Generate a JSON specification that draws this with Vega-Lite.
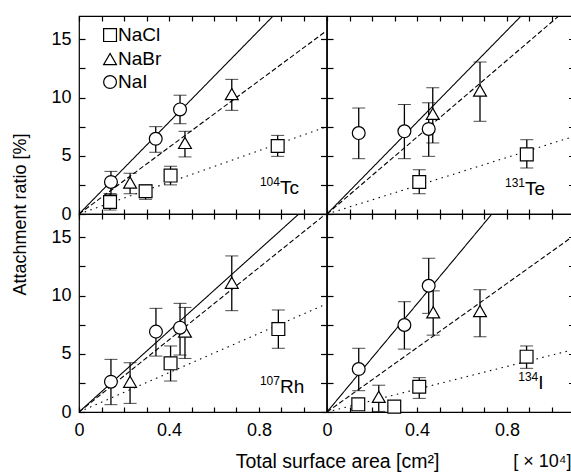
{
  "$schema": "https://vega.github.io/schema/vega-lite/v6.json",
  "padding": {"left": 10, "top": 14, "right": 0, "bottom": 0},
  "background": "white",
  "datasets": {
    "pts": [
      {"panel": "Tc", "salt": "NaCl", "x": 0.138, "y": 1.03, "lo": 0.34, "hi": 1.75},
      {"panel": "Tc", "salt": "NaCl", "x": 0.296, "y": 1.95, "lo": 1.26, "hi": 2.5},
      {"panel": "Tc", "salt": "NaCl", "x": 0.407, "y": 3.3, "lo": 2.5, "hi": 4.1},
      {"panel": "Tc", "salt": "NaCl", "x": 0.883, "y": 5.84, "lo": 4.95, "hi": 6.75},
      {"panel": "Tc", "salt": "NaBr", "x": 0.227, "y": 2.7, "lo": 1.74, "hi": 3.5},
      {"panel": "Tc", "salt": "NaBr", "x": 0.471, "y": 6.1, "lo": 4.9, "hi": 7.1},
      {"panel": "Tc", "salt": "NaBr", "x": 0.679, "y": 10.3, "lo": 8.9, "hi": 11.56},
      {"panel": "Tc", "salt": "NaI", "x": 0.142, "y": 2.75, "lo": 1.66, "hi": 3.66},
      {"panel": "Tc", "salt": "NaI", "x": 0.341, "y": 6.46, "lo": 5.3, "hi": 7.5},
      {"panel": "Tc", "salt": "NaI", "x": 0.449, "y": 8.98, "lo": 7.75, "hi": 10.2},
      {"panel": "Te", "salt": "NaCl", "x": 0.41, "y": 2.75, "lo": 1.74, "hi": 3.8},
      {"panel": "Te", "salt": "NaCl", "x": 0.888, "y": 5.12, "lo": 3.95, "hi": 6.38},
      {"panel": "Te", "salt": "NaBr", "x": 0.47, "y": 8.6, "lo": 6.1, "hi": 10.84},
      {"panel": "Te", "salt": "NaBr", "x": 0.68, "y": 10.6, "lo": 7.96, "hi": 13.05},
      {"panel": "Te", "salt": "NaI", "x": 0.141, "y": 6.95, "lo": 4.75, "hi": 9.1},
      {"panel": "Te", "salt": "NaI", "x": 0.344, "y": 7.1, "lo": 4.75, "hi": 9.4},
      {"panel": "Te", "salt": "NaI", "x": 0.452, "y": 7.3, "lo": 4.95, "hi": 9.55},
      {"panel": "Rh", "salt": "NaCl", "x": 0.407, "y": 4.18, "lo": 2.66, "hi": 5.67},
      {"panel": "Rh", "salt": "NaCl", "x": 0.886, "y": 7.12, "lo": 5.47, "hi": 8.76},
      {"panel": "Rh", "salt": "NaBr", "x": 0.227, "y": 2.6, "lo": 0.74, "hi": 4.23},
      {"panel": "Rh", "salt": "NaBr", "x": 0.471, "y": 6.9, "lo": 4.6, "hi": 8.98},
      {"panel": "Rh", "salt": "NaBr", "x": 0.679, "y": 11.1, "lo": 8.7, "hi": 13.4},
      {"panel": "Rh", "salt": "NaI", "x": 0.142, "y": 2.6, "lo": 0.63, "hi": 4.52},
      {"panel": "Rh", "salt": "NaI", "x": 0.342, "y": 6.9, "lo": 4.8, "hi": 8.9},
      {"panel": "Rh", "salt": "NaI", "x": 0.449, "y": 7.24, "lo": 4.89, "hi": 9.33},
      {"panel": "I", "salt": "NaCl", "x": 0.139, "y": 0.66, "lo": 0.66, "hi": 0.66},
      {"panel": "I", "salt": "NaCl", "x": 0.299, "y": 0.46, "lo": 0.46, "hi": 0.46},
      {"panel": "I", "salt": "NaCl", "x": 0.41, "y": 2.17, "lo": 1.17, "hi": 2.95},
      {"panel": "I", "salt": "NaCl", "x": 0.887, "y": 4.75, "lo": 3.75, "hi": 5.67},
      {"panel": "I", "salt": "NaBr", "x": 0.23, "y": 1.3, "lo": 0.05, "hi": 2.3},
      {"panel": "I", "salt": "NaBr", "x": 0.472, "y": 8.56, "lo": 6.6, "hi": 10.4},
      {"panel": "I", "salt": "NaBr", "x": 0.68, "y": 8.67, "lo": 6.46, "hi": 10.5},
      {"panel": "I", "salt": "NaI", "x": 0.141, "y": 3.69, "lo": 1.83, "hi": 5.47},
      {"panel": "I", "salt": "NaI", "x": 0.344, "y": 7.47, "lo": 5.4, "hi": 9.47},
      {"panel": "I", "salt": "NaI", "x": 0.452, "y": 10.84, "lo": 8.47, "hi": 13.2}
    ],
    "fits": [
      {"panel": "Tc", "fit": "NaCl", "x": 0, "y": 0}, {"panel": "Tc", "fit": "NaCl", "x": 1.1, "y": 7.48},
      {"panel": "Tc", "fit": "NaBr", "x": 0, "y": 0}, {"panel": "Tc", "fit": "NaBr", "x": 1.1, "y": 15.73},
      {"panel": "Tc", "fit": "NaI", "x": 0, "y": 0}, {"panel": "Tc", "fit": "NaI", "x": 1.1, "y": 21.67},
      {"panel": "Te", "fit": "NaCl", "x": 0, "y": 0}, {"panel": "Te", "fit": "NaCl", "x": 1.1, "y": 6.68},
      {"panel": "Te", "fit": "NaBr", "x": 0, "y": 0}, {"panel": "Te", "fit": "NaBr", "x": 1.1, "y": 18.15},
      {"panel": "Te", "fit": "NaI", "x": 0, "y": 0}, {"panel": "Te", "fit": "NaI", "x": 1.1, "y": 21.67},
      {"panel": "Rh", "fit": "NaCl", "x": 0, "y": 0}, {"panel": "Rh", "fit": "NaCl", "x": 1.1, "y": 9.28},
      {"panel": "Rh", "fit": "NaBr", "x": 0, "y": 0}, {"panel": "Rh", "fit": "NaBr", "x": 1.1, "y": 17.05},
      {"panel": "Rh", "fit": "NaI", "x": 0, "y": 0}, {"panel": "Rh", "fit": "NaI", "x": 1.1, "y": 19.14},
      {"panel": "I", "fit": "NaCl", "x": 0, "y": 0}, {"panel": "I", "fit": "NaCl", "x": 1.1, "y": 5.38},
      {"panel": "I", "fit": "NaBr", "x": 0, "y": 0}, {"panel": "I", "fit": "NaBr", "x": 1.1, "y": 15.18},
      {"panel": "I", "fit": "NaI", "x": 0, "y": 0}, {"panel": "I", "fit": "NaI", "x": 1.1, "y": 25.52}
    ],
    "labels": [
      {"panel": "Tc", "sup": "104", "sym": "Tc"},
      {"panel": "Te", "sup": "131", "sym": "Te"},
      {"panel": "Rh", "sup": "107", "sym": "Rh"},
      {"panel": "I", "sup": "134", "sym": "I"}
    ]
  },
  "columns": 2,
  "spacing": 0,
  "bounds": "flush",
  "resolve": {"scale": {"strokeDash": "independent"}},
  "concat": [
    {
      "width": 247.5, "height": 198,
      "resolve": {"axis": {"x": "independent", "y": "independent"}},
      "layer": [
        {"data": {"name": "fits"}, "transform": [{"filter": "datum.panel === 'Tc'"}],
         "mark": {"type": "line", "clip": true, "color": "black", "strokeWidth": 1.1},
         "encoding": {
           "x": {"field": "x", "type": "quantitative", "scale": {"domain": [0, 1.1], "nice": false, "zero": false},
                 "axis": {"orient": "bottom", "values": [0,0.1,0.2,0.3,0.4,0.5,0.6,0.7,0.8,0.9,1.0], "labels": false, "tickSize": -5, "title": null}},
           "y": {"field": "y", "type": "quantitative", "scale": {"domain": [0, 17], "nice": false, "zero": false},
                 "axis": {"orient": "left", "values": [0,2.5,5,7.5,10,12.5,15], "labelExpr": "datum.value % 5 === 0 ? datum.label : ''", "tickSize": -6, "labelPadding": 14, "title": "Attachment ratio [%]", "titleX": -50, "titleY": 198}},
           "strokeDash": {"field": "fit", "type": "nominal", "scale": {"domain": ["NaCl", "NaBr", "NaI"], "range": [[1.5, 4.5], [5, 2.5], [1, 0]]}, "legend": null}
         }},
        {"data": {"name": "pts"}, "transform": [{"filter": "datum.panel === 'Tc'"}],
         "mark": {"type": "errorbar", "ticks": {"size": 13, "color": "black", "strokeWidth": 1.3}, "rule": {"color": "black", "strokeWidth": 1.3}},
         "encoding": {
           "x": {"field": "x", "type": "quantitative", "scale": {"domain": [0, 1.1], "nice": false, "zero": false},
                 "axis": {"orient": "top", "values": [0,0.1,0.2,0.3,0.4,0.5,0.6,0.7,0.8,0.9,1.0], "labels": false, "tickSize": -5, "title": null}},
           "y": {"field": "lo", "type": "quantitative", "scale": {"domain": [0, 17], "nice": false, "zero": false},
                 "axis": {"orient": "right", "values": [0,2.5,5,7.5,10,12.5,15], "labels": false, "tickSize": -6, "title": null}},
           "y2": {"field": "hi"}
         }},
        {"data": {"name": "pts"}, "transform": [{"filter": "datum.panel === 'Tc'"}],
         "mark": {"type": "point", "filled": false, "color": "black", "fill": "white", "stroke": "black", "strokeWidth": 1.2, "opacity": 1, "size": 165},
         "encoding": {
           "x": {"field": "x", "type": "quantitative", "axis": null},
           "y": {"field": "y", "type": "quantitative", "axis": null},
           "shape": {"field": "salt", "type": "nominal", "scale": {"domain": ["NaCl", "NaBr", "NaI"], "range": ["square", "triangle-up", "circle"]}, "legend": null}
         }},
        {"data": {"name": "labels"}, "transform": [{"filter": "datum.panel === 'Tc'"}],
         "mark": {"type": "point", "filled": false, "color": "black", "fill": "white", "stroke": "black", "strokeWidth": 1.2, "opacity": 1, "size": 165},
         "encoding": {"x": {"datum": 0.138, "type": "quantitative", "axis": null}, "y": {"datum": 15.36, "type": "quantitative", "axis": null}, "shape": {"datum": "NaCl", "type": "nominal", "legend": null}}},
        {"data": {"name": "labels"}, "transform": [{"filter": "datum.panel === 'Tc'"}],
         "mark": {"type": "point", "filled": false, "color": "black", "fill": "white", "stroke": "black", "strokeWidth": 1.2, "opacity": 1, "size": 165},
         "encoding": {"x": {"datum": 0.138, "type": "quantitative", "axis": null}, "y": {"datum": 13.3, "type": "quantitative", "axis": null}, "shape": {"datum": "NaBr", "type": "nominal", "legend": null}}},
        {"data": {"name": "labels"}, "transform": [{"filter": "datum.panel === 'Tc'"}],
         "mark": {"type": "point", "filled": false, "color": "black", "fill": "white", "stroke": "black", "strokeWidth": 1.2, "opacity": 1, "size": 165},
         "encoding": {"x": {"datum": 0.138, "type": "quantitative", "axis": null}, "y": {"datum": 11.33, "type": "quantitative", "axis": null}, "shape": {"datum": "NaI", "type": "nominal", "legend": null}}},
        {"data": {"name": "labels"}, "transform": [{"filter": "datum.panel === 'Tc'"}],
         "mark": {"type": "text", "align": "left", "baseline": "middle", "fontSize": 19, "color": "black"},
         "encoding": {"x": {"datum": 0.173, "type": "quantitative", "axis": null}, "y": {"datum": 15.36, "type": "quantitative", "axis": null}, "text": {"value": "NaCl"}}},
        {"data": {"name": "labels"}, "transform": [{"filter": "datum.panel === 'Tc'"}],
         "mark": {"type": "text", "align": "left", "baseline": "middle", "fontSize": 19, "color": "black"},
         "encoding": {"x": {"datum": 0.173, "type": "quantitative", "axis": null}, "y": {"datum": 13.3, "type": "quantitative", "axis": null}, "text": {"value": "NaBr"}}},
        {"data": {"name": "labels"}, "transform": [{"filter": "datum.panel === 'Tc'"}],
         "mark": {"type": "text", "align": "left", "baseline": "middle", "fontSize": 19, "color": "black"},
         "encoding": {"x": {"datum": 0.173, "type": "quantitative", "axis": null}, "y": {"datum": 11.33, "type": "quantitative", "axis": null}, "text": {"value": "NaI"}}},
        {"data": {"name": "labels"}, "transform": [{"filter": "datum.panel === 'Tc'"}],
         "mark": {"type": "text", "align": "right", "baseline": "alphabetic", "fontSize": 12, "dy": -8, "color": "black"},
         "encoding": {"x": {"datum": 0.893, "type": "quantitative", "axis": null}, "y": {"datum": 1.74, "type": "quantitative", "axis": null}, "text": {"field": "sup"}}},
        {"data": {"name": "labels"}, "transform": [{"filter": "datum.panel === 'Tc'"}],
         "mark": {"type": "text", "align": "left", "baseline": "alphabetic", "fontSize": 19, "color": "black"},
         "encoding": {"x": {"datum": 0.893, "type": "quantitative", "axis": null}, "y": {"datum": 1.74, "type": "quantitative", "axis": null}, "text": {"field": "sym"}}}
      ]
    },
    {
      "width": 247.5, "height": 198,
      "resolve": {"axis": {"x": "independent", "y": "independent"}},
      "layer": [
        {"data": {"name": "fits"}, "transform": [{"filter": "datum.panel === 'Te'"}],
         "mark": {"type": "line", "clip": true, "color": "black", "strokeWidth": 1.1},
         "encoding": {
           "x": {"field": "x", "type": "quantitative", "scale": {"domain": [0, 1.1], "nice": false, "zero": false},
                 "axis": {"orient": "bottom", "values": [0,0.1,0.2,0.3,0.4,0.5,0.6,0.7,0.8,0.9,1.0], "labels": false, "tickSize": -5, "title": null}},
           "y": {"field": "y", "type": "quantitative", "scale": {"domain": [0, 17], "nice": false, "zero": false},
                 "axis": {"orient": "left", "values": [0,2.5,5,7.5,10,12.5,15], "labels": false, "tickSize": -6, "title": null}},
           "strokeDash": {"field": "fit", "type": "nominal", "scale": {"domain": ["NaCl", "NaBr", "NaI"], "range": [[1.5, 4.5], [5, 2.5], [1, 0]]}, "legend": null}
         }},
        {"data": {"name": "pts"}, "transform": [{"filter": "datum.panel === 'Te'"}],
         "mark": {"type": "errorbar", "ticks": {"size": 13, "color": "black", "strokeWidth": 1.3}, "rule": {"color": "black", "strokeWidth": 1.3}},
         "encoding": {
           "x": {"field": "x", "type": "quantitative", "scale": {"domain": [0, 1.1], "nice": false, "zero": false},
                 "axis": {"orient": "top", "values": [0,0.1,0.2,0.3,0.4,0.5,0.6,0.7,0.8,0.9,1.0], "labels": false, "tickSize": -5, "title": null}},
           "y": {"field": "lo", "type": "quantitative", "scale": {"domain": [0, 17], "nice": false, "zero": false},
                 "axis": {"orient": "right", "values": [0,2.5,5,7.5,10,12.5,15], "labels": false, "tickSize": -6, "title": null}},
           "y2": {"field": "hi"}
         }},
        {"data": {"name": "pts"}, "transform": [{"filter": "datum.panel === 'Te'"}],
         "mark": {"type": "point", "filled": false, "color": "black", "fill": "white", "stroke": "black", "strokeWidth": 1.2, "opacity": 1, "size": 165},
         "encoding": {
           "x": {"field": "x", "type": "quantitative", "axis": null},
           "y": {"field": "y", "type": "quantitative", "axis": null},
           "shape": {"field": "salt", "type": "nominal", "scale": {"domain": ["NaCl", "NaBr", "NaI"], "range": ["square", "triangle-up", "circle"]}, "legend": null}
         }},
        {"data": {"name": "labels"}, "transform": [{"filter": "datum.panel === 'Te'"}],
         "mark": {"type": "text", "align": "right", "baseline": "alphabetic", "fontSize": 12, "dy": -8, "color": "black"},
         "encoding": {"x": {"datum": 0.88, "type": "quantitative", "axis": null}, "y": {"datum": 1.6, "type": "quantitative", "axis": null}, "text": {"field": "sup"}}},
        {"data": {"name": "labels"}, "transform": [{"filter": "datum.panel === 'Te'"}],
         "mark": {"type": "text", "align": "left", "baseline": "alphabetic", "fontSize": 19, "color": "black"},
         "encoding": {"x": {"datum": 0.88, "type": "quantitative", "axis": null}, "y": {"datum": 1.6, "type": "quantitative", "axis": null}, "text": {"field": "sym"}}}
      ]
    },
    {
      "width": 247.5, "height": 198,
      "resolve": {"axis": {"x": "independent", "y": "independent"}},
      "layer": [
        {"data": {"name": "fits"}, "transform": [{"filter": "datum.panel === 'Rh'"}],
         "mark": {"type": "line", "clip": true, "color": "black", "strokeWidth": 1.1},
         "encoding": {
           "x": {"field": "x", "type": "quantitative", "scale": {"domain": [0, 1.1], "nice": false, "zero": false},
                 "axis": {"orient": "bottom", "values": [0,0.1,0.2,0.3,0.4,0.5,0.6,0.7,0.8,0.9,1.0], "format": ".1~f", "labelExpr": "indexof(['0','0.4','0.8'], datum.label) >= 0 ? datum.label : ''", "tickSize": -5, "labelPadding": 14, "title": "Total surface area [cm²]", "titleFontSize": 19.5, "titleX": 258, "titleY": 40, "titleAlign": "center", "titleBaseline": "top"}},
           "y": {"field": "y", "type": "quantitative", "scale": {"domain": [0, 17], "nice": false, "zero": false},
                 "axis": {"orient": "left", "values": [0,2.5,5,7.5,10,12.5,15], "labelExpr": "datum.value % 5 === 0 ? datum.label : ''", "tickSize": -6, "labelPadding": 14, "title": null}},
           "strokeDash": {"field": "fit", "type": "nominal", "scale": {"domain": ["NaCl", "NaBr", "NaI"], "range": [[1.5, 4.5], [5, 2.5], [1, 0]]}, "legend": null}
         }},
        {"data": {"name": "pts"}, "transform": [{"filter": "datum.panel === 'Rh'"}],
         "mark": {"type": "errorbar", "ticks": {"size": 13, "color": "black", "strokeWidth": 1.3}, "rule": {"color": "black", "strokeWidth": 1.3}},
         "encoding": {
           "x": {"field": "x", "type": "quantitative", "scale": {"domain": [0, 1.1], "nice": false, "zero": false},
                 "axis": {"orient": "top", "values": [0,0.1,0.2,0.3,0.4,0.5,0.6,0.7,0.8,0.9,1.0], "labels": false, "tickSize": -5, "title": null}},
           "y": {"field": "lo", "type": "quantitative", "scale": {"domain": [0, 17], "nice": false, "zero": false},
                 "axis": {"orient": "right", "values": [0,2.5,5,7.5,10,12.5,15], "labels": false, "tickSize": -6, "title": null}},
           "y2": {"field": "hi"}
         }},
        {"data": {"name": "pts"}, "transform": [{"filter": "datum.panel === 'Rh'"}],
         "mark": {"type": "point", "filled": false, "color": "black", "fill": "white", "stroke": "black", "strokeWidth": 1.2, "opacity": 1, "size": 165},
         "encoding": {
           "x": {"field": "x", "type": "quantitative", "axis": null},
           "y": {"field": "y", "type": "quantitative", "axis": null},
           "shape": {"field": "salt", "type": "nominal", "scale": {"domain": ["NaCl", "NaBr", "NaI"], "range": ["square", "triangle-up", "circle"]}, "legend": null}
         }},
        {"data": {"name": "labels"}, "transform": [{"filter": "datum.panel === 'Rh'"}],
         "mark": {"type": "text", "align": "right", "baseline": "alphabetic", "fontSize": 12, "dy": -8, "color": "black"},
         "encoding": {"x": {"datum": 0.893, "type": "quantitative", "axis": null}, "y": {"datum": 1.66, "type": "quantitative", "axis": null}, "text": {"field": "sup"}}},
        {"data": {"name": "labels"}, "transform": [{"filter": "datum.panel === 'Rh'"}],
         "mark": {"type": "text", "align": "left", "baseline": "alphabetic", "fontSize": 19, "color": "black"},
         "encoding": {"x": {"datum": 0.893, "type": "quantitative", "axis": null}, "y": {"datum": 1.66, "type": "quantitative", "axis": null}, "text": {"field": "sym"}}}
      ]
    },
    {
      "width": 247.5, "height": 198,
      "resolve": {"axis": {"x": "independent", "y": "independent"}},
      "layer": [
        {"data": {"name": "fits"}, "transform": [{"filter": "datum.panel === 'I'"}],
         "mark": {"type": "line", "clip": true, "color": "black", "strokeWidth": 1.1},
         "encoding": {
           "x": {"field": "x", "type": "quantitative", "scale": {"domain": [0, 1.1], "nice": false, "zero": false},
                 "axis": {"orient": "bottom", "values": [0,0.1,0.2,0.3,0.4,0.5,0.6,0.7,0.8,0.9,1.0], "format": ".1~f", "labelExpr": "indexof(['0','0.4','0.8'], datum.label) >= 0 ? datum.label : ''", "tickSize": -5, "labelPadding": 14, "title": "[ × 10⁴]", "titleX": 244, "titleY": 40, "titleAlign": "right", "titleBaseline": "top"}},
           "y": {"field": "y", "type": "quantitative", "scale": {"domain": [0, 17], "nice": false, "zero": false},
                 "axis": {"orient": "left", "values": [0,2.5,5,7.5,10,12.5,15], "labels": false, "tickSize": -6, "title": null}},
           "strokeDash": {"field": "fit", "type": "nominal", "scale": {"domain": ["NaCl", "NaBr", "NaI"], "range": [[1.5, 4.5], [5, 2.5], [1, 0]]}, "legend": null}
         }},
        {"data": {"name": "pts"}, "transform": [{"filter": "datum.panel === 'I'"}],
         "mark": {"type": "errorbar", "ticks": {"size": 13, "color": "black", "strokeWidth": 1.3}, "rule": {"color": "black", "strokeWidth": 1.3}},
         "encoding": {
           "x": {"field": "x", "type": "quantitative", "scale": {"domain": [0, 1.1], "nice": false, "zero": false},
                 "axis": {"orient": "top", "values": [0,0.1,0.2,0.3,0.4,0.5,0.6,0.7,0.8,0.9,1.0], "labels": false, "tickSize": -5, "title": null}},
           "y": {"field": "lo", "type": "quantitative", "scale": {"domain": [0, 17], "nice": false, "zero": false},
                 "axis": {"orient": "right", "values": [0,2.5,5,7.5,10,12.5,15], "labels": false, "tickSize": -6, "title": null}},
           "y2": {"field": "hi"}
         }},
        {"data": {"name": "pts"}, "transform": [{"filter": "datum.panel === 'I'"}],
         "mark": {"type": "point", "filled": false, "color": "black", "fill": "white", "stroke": "black", "strokeWidth": 1.2, "opacity": 1, "size": 165},
         "encoding": {
           "x": {"field": "x", "type": "quantitative", "axis": null},
           "y": {"field": "y", "type": "quantitative", "axis": null},
           "shape": {"field": "salt", "type": "nominal", "scale": {"domain": ["NaCl", "NaBr", "NaI"], "range": ["square", "triangle-up", "circle"]}, "legend": null}
         }},
        {"data": {"name": "labels"}, "transform": [{"filter": "datum.panel === 'I'"}],
         "mark": {"type": "text", "align": "right", "baseline": "alphabetic", "fontSize": 12, "dy": -8, "color": "black"},
         "encoding": {"x": {"datum": 0.939, "type": "quantitative", "axis": null}, "y": {"datum": 1.95, "type": "quantitative", "axis": null}, "text": {"field": "sup"}}},
        {"data": {"name": "labels"}, "transform": [{"filter": "datum.panel === 'I'"}],
         "mark": {"type": "text", "align": "left", "baseline": "alphabetic", "fontSize": 19, "color": "black"},
         "encoding": {"x": {"datum": 0.939, "type": "quantitative", "axis": null}, "y": {"datum": 1.95, "type": "quantitative", "axis": null}, "text": {"field": "sym"}}}
      ]
    }
  ],
  "config": {
    "font": "Liberation Sans",
    "view": {"stroke": "black", "strokeWidth": 1.2},
    "axis": {"domain": false, "grid": false, "tickColor": "black", "tickWidth": 1.2, "labelColor": "black", "labelFontSize": 18, "labelFont": "Liberation Sans", "labelFlush": false, "labelOverlap": false, "titleColor": "black", "titleFontSize": 18, "titleFontWeight": "normal", "titleFont": "Liberation Sans"}
  }
}
